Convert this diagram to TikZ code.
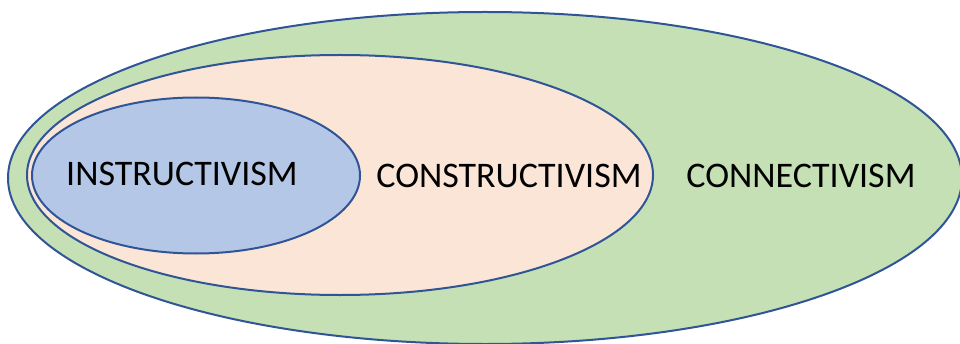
\documentclass[tikz,border=0pt]{standalone}
\usepackage{fontspec}
\setmainfont{Carlito}
\usepackage{tikz}

\definecolor{outline}{HTML}{2F5597}
\definecolor{greenfill}{HTML}{C5E0B4}
\definecolor{peachfill}{HTML}{FBE5D6}
\definecolor{bluefill}{HTML}{B4C7E7}

\begin{document}
\begin{tikzpicture}[
    x=1pt, y=1pt, % one unit is one pixel of the reference
    layer/.style={
        draw=outline, % dark blue border
        line width=2pt % border thickness
    },
    label/.style={
        font=\fontsize{36}{42}\selectfont, % large plain text
        inner sep=0pt
    }
]
\useasboundingbox (0,0) rectangle (960,343);
\clip (0,0) rectangle (960,343);

% nested ellipses, outer to inner
\filldraw[layer, fill=greenfill] (485,165) ellipse [x radius=477, y radius=166];
\filldraw[layer, fill=peachfill] (340,168) ellipse [x radius=313, y radius=120];
\filldraw[layer, fill=bluefill] (196,167.5) ellipse [x radius=164, y radius=78];

\node[label] (instr) at (182,169) {INSTRUCTIVISM};
\node[label] (constr) at (509,167) {CONSTRUCTIVISM};
\node[label] (connect) at (801,167) {CONNECTIVISM};
\end{tikzpicture}
\end{document}
